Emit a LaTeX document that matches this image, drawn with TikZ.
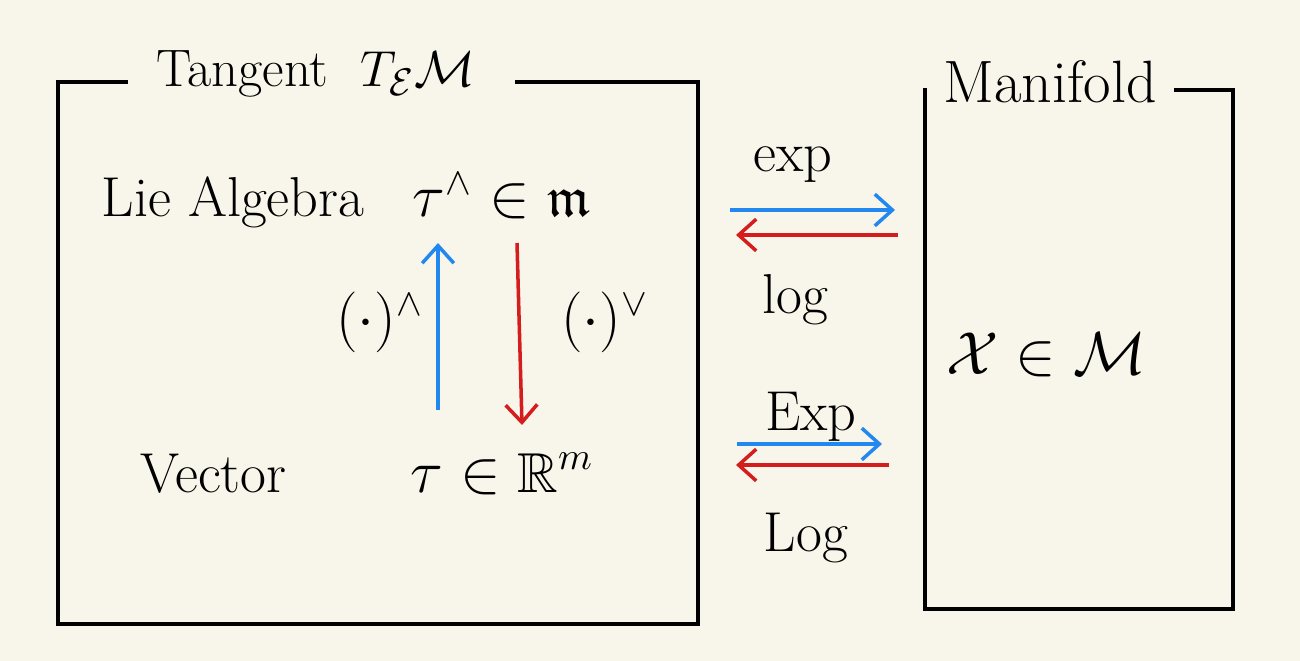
\documentclass[tikz,border=0pt]{standalone}
\usepackage{tikz}
\usetikzlibrary{arrows.meta,positioning}
\usepackage{amsmath,amssymb,amsfonts}
\usepackage{xcolor}
\definecolor{paper}{HTML}{F8F6EB}
\definecolor{expblue}{HTML}{2288F0}
\definecolor{logred}{HTML}{D41E1E}

\begin{document}
\begin{tikzpicture}[x=0.01cm,y=-0.01cm,
  lbl/.style={inner sep=0pt,font=\fontsize{16}{19}\selectfont},
  frame/.style={line width=0.9pt,draw=black},
  bluarrow/.style={-{Straight Barb[length=5pt,width=9pt]},line width=1pt,draw=expblue},
  redarrow/.style={-{Straight Barb[length=5pt,width=9pt]},line width=1pt,draw=logred}]
\fill[paper] (0,0) rectangle (1300,661);
\useasboundingbox (0,0) rectangle (1300,661);
% boxes
\draw[frame] (128,82) -- (58,82) -- (58,624) -- (698,624) -- (698,82) -- (515,82);
\draw[frame] (925,88) -- (925,609) -- (1233,609) -- (1233,90) -- (1174,90);
% titles
\node (tan) [lbl,anchor=base,font=\fontsize{15}{18}\selectfont] at (316,87) {Tangent\ \ $T_{\mathcal{E}}\mathcal{M}$};
\node (man) [lbl,anchor=base west,font=\fontsize{17}{20}\selectfont] at (943,103) {Manifold};
%
\node (lie) [lbl,anchor=base west] at (101,217) {Lie Algebra};
\node (hat) [lbl,anchor=base west] at (412,217) {$\tau^{\wedge} \in \mathfrak{m}$};
\node (vec) [lbl,anchor=base west] at (140,492) {Vector};
\node (vee) [lbl,anchor=base west] at (410,492) {$\tau \in \mathbb{R}^m$};
\node (point) [lbl,anchor=base west] at (946,375) {$\mathcal{X} \in \mathcal{M}$};
%
\coordinate (up0) at (438,410);
\coordinate (up1) at (438,243);
\coordinate (dn0) at (517,243);
\coordinate (dn1) at (522,425);
\draw[bluarrow] (up0) -- (up1);
\draw[redarrow] (dn0) -- (dn1);
\node (hatop) [lbl] at (380,322) {$(\cdot)^{\wedge}$};
\node (veeop) [lbl] at (605,322) {$(\cdot)^{\vee}$};
%
\coordinate (e0) at (730,210);
\coordinate (e1) at (895,210);
\coordinate (l0) at (898,235);
\coordinate (l1) at (736,235);
\coordinate (E0) at (737,444);
\coordinate (E1) at (882,444);
\coordinate (L0) at (889,465);
\coordinate (L1) at (736,465);
\draw[bluarrow] (e0) -- (e1);
\draw[redarrow] (l0) -- (l1);
\draw[bluarrow] (E0) -- (E1);
\draw[redarrow] (L0) -- (L1);
\node (exp) [lbl,anchor=base] at (793,172) {exp};
\node (log) [lbl,anchor=base] at (795,314) {log};
\node (Exp) [lbl,anchor=base] at (811,431) {Exp};
\node (Log) [lbl,anchor=base] at (806,551) {Log};
\end{tikzpicture}
\end{document}
